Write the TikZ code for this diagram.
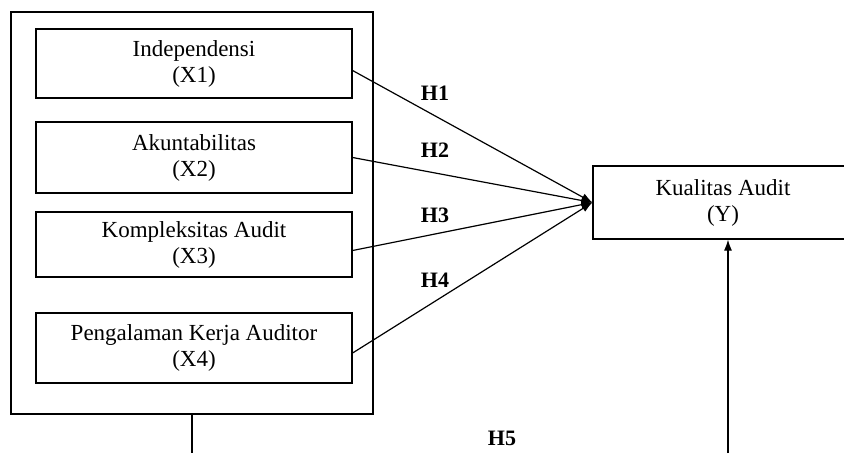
\documentclass[tikz,border=0pt]{standalone}
\usepackage{fontspec}
\setmainfont{Liberation Serif}
\usetikzlibrary{arrows.meta,positioning,calc}

\begin{document}
\begin{tikzpicture}[x=1pt,y=-1pt,line width=1.2pt,
  varbox/.style={draw,rectangle,align=center,minimum width=316pt,minimum height=69pt,
    inner sep=0pt,font=\fontsize{23}{26}\selectfont},
  hlabel/.style={font=\fontsize{22}{26}\selectfont\bfseries,inner sep=0pt},
  panah/.style={-{Latex[length=11pt,width=8pt]}}]
  \useasboundingbox (0,0) rectangle (844,453);
  % kotak luar
  \node[draw,rectangle,minimum width=362pt,minimum height=402pt,inner sep=0pt] (grup) at (192,213) {};
  \node[varbox] (indep) at (194,63.5) {Independensi\\(X1)};
  \node[varbox,minimum height=71pt] (akun) at (194,157.5) {Akuntabilitas\\(X2)};
  \node[varbox,minimum height=65pt] (komp) at (194,244.5) {Kompleksitas Audit\\(X3)};
  \node[varbox,minimum height=70pt] (peng) at (194,348) {Pengalaman Kerja Auditor\\(X4)};
  % kotak Y (terpotong di kanan)
  \node[varbox,minimum width=260pt,minimum height=73pt] (kual) at (723,202.5) {Kualitas Audit\\(Y)};
  % hipotesis
  \draw[panah] ([yshift=-7pt]indep.east) -- (kual.west);
  \draw[panah] (akun.east) -- (kual.west);
  \draw[panah] ([yshift=-6pt]komp.east) -- (kual.west);
  \draw[panah] ([yshift=-5pt]peng.east) -- (kual.west);
  \node[hlabel] (h1) at (435,93) {H1};
  \node[hlabel] (h2) at (435,150) {H2};
  \node[hlabel] (h3) at (435,215.5) {H3};
  \node[hlabel] (h4) at (435,280) {H4};
  \node[hlabel] (h5) at (502,438) {H5};
  % jalur bawah (terpotong)
  \coordinate (kiri) at (grup.south |- 0,453);
  \coordinate (kanan) at (728,453);
  \draw (grup.south) -- (kiri);
  \draw[panah] (kanan) -- (kanan |- kual.south);
\end{tikzpicture}
\end{document}
